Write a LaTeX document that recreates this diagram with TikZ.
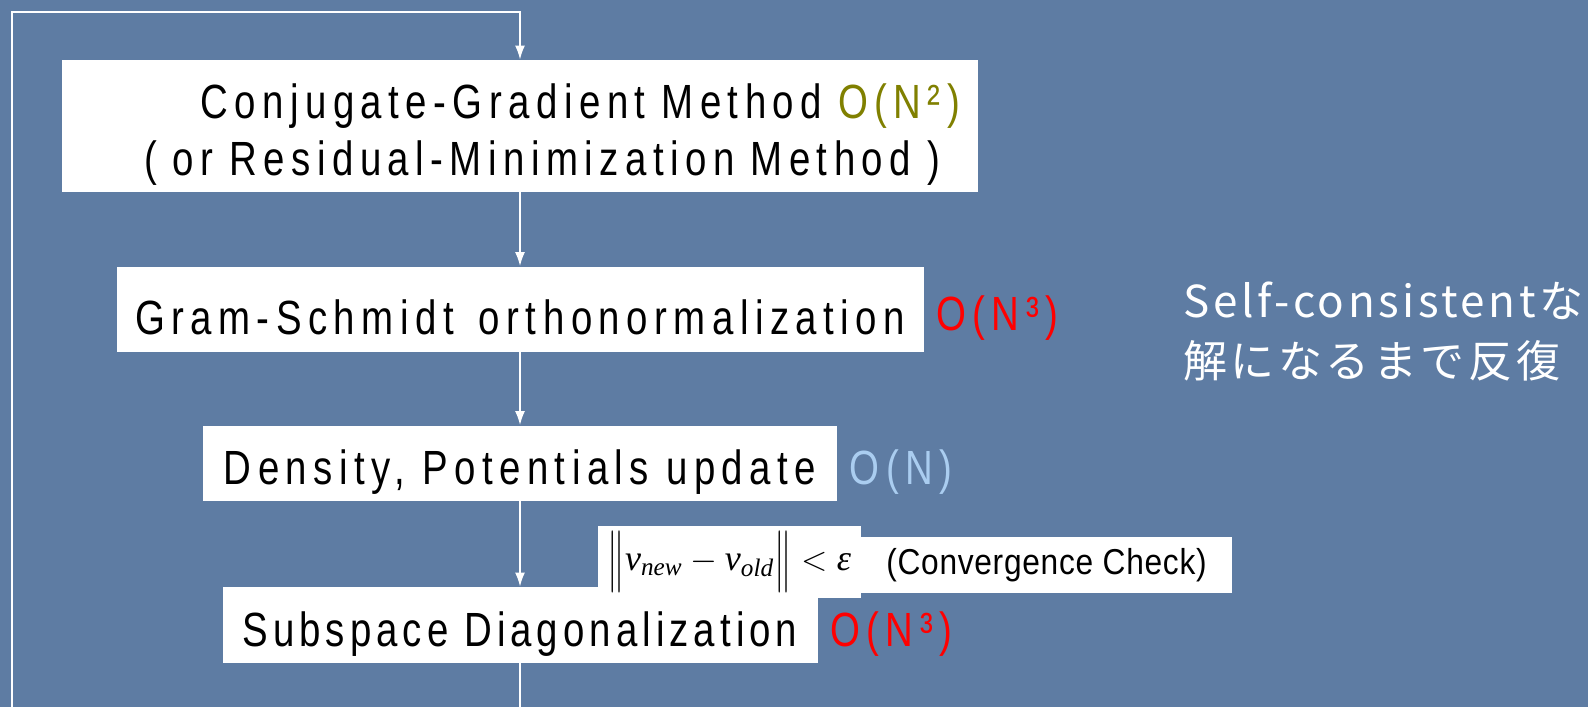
\documentclass[tikz,border=0pt]{standalone}
\usepackage{amsmath}
\usepackage{graphicx}
\usepackage[no-math]{fontspec}
\setmainfont{Liberation Sans}[FakeStretch=0.8, LetterSpace=13.5]
\newfontfamily\jpfont{Noto Sans CJK JP}[LetterSpace=8]
\newfontfamily\checkfont{Liberation Sans}[FakeStretch=0.88, LetterSpace=2]
\newfontfamily\formulafont{Liberation Serif}
\newcommand{\fvar}[1]{\text{\formulafont\itshape #1}}
\newcommand{\normbar}{\mathord{\vcenter{\hbox{\scalebox{1}[1.8]{$\|$}}}}}
\usetikzlibrary{arrows.meta}
\definecolor{bgblue}{RGB}{94,124,163}
\definecolor{ordolive}{RGB}{128,128,0}
\definecolor{ordred}{RGB}{255,0,0}
\definecolor{ordblue}{RGB}{170,205,240}
\tikzstyle{block} = [fill=white, rectangle, inner sep=0pt, font=\fontsize{24}{28.5}\selectfont, execute at begin node={\rule{0pt}{26pt}}]
\tikzstyle{note} = [fill=white, rectangle, inner sep=0pt]
\tikzstyle{order} = [anchor=west, inner sep=0pt, font=\fontsize{24}{28.5}\selectfont, execute at begin node={\rule{0pt}{26pt}}]
\tikzstyle{flow} = [draw=white, line width=0.9pt]

\begin{document}
\begin{tikzpicture}[x=0.5pt, y=-0.5pt, >={Latex[length=7pt, width=5pt]}]
  \fill[bgblue] (0,0) rectangle (1588,707);
  \useasboundingbox (0,0) rectangle (1588,707);

  \node[block, minimum width=458pt, minimum height=66pt, align=right, text width=440pt] at (520,126) (cg) {Conjugate-Gradient Method {\color{ordolive}O(N²)}\\( or Residual-Minimization Method )\kern10pt};
  \node[block, minimum width=403.5pt, minimum height=42.5pt] at (520,309) (gs) {Gram-Schmidt\hspace{4pt} orthonormalization};
  \node[block, minimum width=317pt, minimum height=37.5pt] at (520,463) (dens) {Density, Potentials update};
  \node[block, minimum width=297.5pt, minimum height=38pt] at (520,625) (subdiag) {\addfontfeature{LetterSpace=10.5}Subspace Diagonalization};
  \node[note, minimum width=185.5pt, minimum height=28pt, font=\checkfont\fontsize{18}{22}\selectfont] at (1046.5,565) (check) {(Convergence Check)};
  \node[note, minimum width=131.5pt, minimum height=36pt, font=\fontsize{18}{22}\selectfont] at (729.5,562) (conv) {$\normbar \fvar{v}_{\fvar{new}} - \fvar{v}_{\fvar{old}} \normbar < \fvar{ε}$};

  \node[order, text=ordred] at ([xshift=6pt]gs.east) (gsorder) {O(N³)};
  \node[order, text=ordblue] at ([xshift=6pt]dens.east) (densorder) {O(N)};
  \node[order, text=ordred] at ([xshift=6pt]subdiag.east) (subdiagorder) {O(N³)};

  \node[anchor=base west, text=white, inner sep=0pt, font=\jpfont\fontsize{22}{30}\selectfont] at (1183,317) (scfa) {Self-consistentな};
  \node[anchor=base west, text=white, inner sep=0pt, font=\jpfont\fontsize{22}{30}\selectfont] at (1183,377) (scfb) {解になるまで反復};

  \coordinate (loopbl) at (12,707);
  \coordinate (looptop) at (520,12);
  \coordinate (loopbr) at (520,707);

  \draw[flow, ->] (cg) -- (gs);
  \draw[flow, ->] (gs) -- (dens);
  \draw[flow, ->] (dens) -- (subdiag);
  \draw[flow] (subdiag) -- (loopbr);
  \draw[flow, ->] (loopbl) |- (looptop) -- (cg);
\end{tikzpicture}
\end{document}
